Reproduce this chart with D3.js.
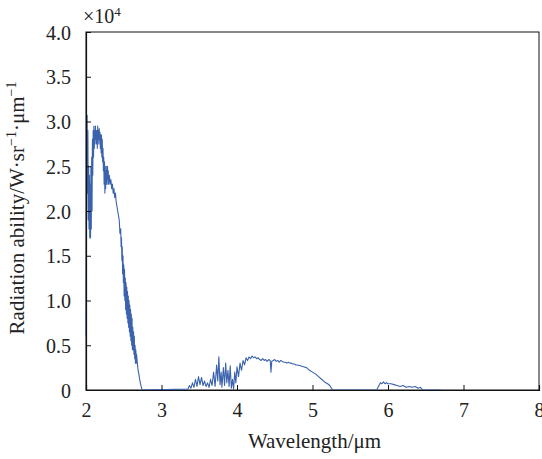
<!DOCTYPE html>
<html>
<head>
<meta charset="utf-8">
<script src="https://cdn.jsdelivr.net/npm/d3@7"></script>
<style>
body{margin:0;background:#fff;}
text{font-family:"Liberation Serif","Times New Roman",serif;fill:#222;}
</style>
</head>
<body>
<div id="chart"></div>
<script>
// wavelength (um) and radiation ability (x1e4 W/sr/um)
var band1 = [
 [2.000,0.6],[2.005,1.6],[2.010,2.6],[2.015,3.07],[2.020,2.2],[2.025,2.9],[2.030,1.9],[2.035,2.5],
 [2.040,1.8],[2.045,2.4],[2.050,1.7],[2.055,2.3],[2.060,1.7],[2.065,2.5],[2.070,1.8],[2.075,2.6],
 [2.080,2.0],[2.085,2.8],[2.090,2.4],[2.095,2.9],[2.100,2.6],[2.105,2.95],[2.110,2.7],[2.115,2.9],
 [2.120,2.75],[2.125,2.95],[2.130,2.8],[2.135,2.9],[2.140,2.75],[2.145,2.9],[2.150,2.7],[2.155,2.95],
 [2.160,2.8],[2.165,2.9],[2.170,2.75],[2.175,2.92],[2.180,2.8],[2.185,2.88],[2.190,2.7],[2.195,2.85],
 [2.200,2.65],[2.205,2.85],[2.210,2.6],[2.215,2.8],[2.220,2.55],[2.225,2.7],[2.230,2.45],[2.235,2.6],
 [2.240,2.3],[2.245,2.55],[2.250,2.2],[2.255,2.5],[2.260,2.25],[2.265,2.45],[2.270,2.3],[2.275,2.5],
 [2.280,2.35],[2.285,2.5],[2.290,2.3],[2.295,2.45],[2.300,2.3],[2.310,2.4],[2.320,2.3],[2.330,2.35],
 [2.340,2.25],[2.350,2.3],[2.360,2.2],[2.370,2.25],[2.380,2.15],[2.390,2.2],[2.400,2.1],[2.410,2.05],
 [2.420,2.0],[2.430,1.95],[2.440,1.9],[2.450,1.75],[2.460,1.8],[2.465,1.6],[2.470,1.7],[2.475,1.45],
 [2.480,1.6],[2.485,1.3],[2.490,1.5],[2.495,1.2],[2.500,1.4],[2.505,1.05],[2.510,1.35],[2.515,1.0],
 [2.520,1.25],[2.525,0.9],[2.530,1.2],[2.535,0.85],[2.540,1.15],[2.545,0.8],[2.550,1.1],[2.555,0.75],
 [2.560,1.05],[2.565,0.7],[2.570,1.0],[2.575,0.65],[2.580,0.95],[2.585,0.6],[2.590,0.9],[2.595,0.55],
 [2.600,0.85],[2.605,0.5],[2.610,0.8],[2.615,0.45],[2.620,0.7],[2.625,0.45],[2.630,0.65],[2.635,0.4],
 [2.640,0.6],[2.645,0.35],[2.650,0.5],[2.655,0.3],[2.660,0.45],[2.665,0.3],[2.670,0.4],[2.680,0.3],
 [2.690,0.22],[2.700,0.18],[2.710,0.12],[2.720,0.08],[2.730,0.04],[2.740,0.01],[2.750,0]
];
var band2 = [
 [2.750,0],[3.350,0.01],[3.370,0.05],[3.390,0.02],[3.410,0.08],[3.430,0.03],[3.450,0.12],[3.470,0.04],
 [3.490,0.15],[3.510,0.06],[3.530,0.14],[3.550,0.05],[3.570,0.1],[3.590,0.04],[3.610,0.08],[3.630,0.03],
 [3.650,0.12],[3.670,0.05],[3.690,0.2],[3.710,0.04],[3.730,0.28],[3.745,0.1],[3.760,0.37],[3.775,0.06],
 [3.790,0.2],[3.800,0.03],[3.820,0.25],[3.835,0.05],[3.850,0.3],[3.865,0.08],[3.880,0.22],[3.895,0.04],
 [3.910,0.27],[3.925,0.02],[3.940,0.12],[3.955,0.01],[3.970,0.2],[3.985,0.08],[4.000,0.26],[4.020,0.15],
 [4.040,0.3],[4.060,0.22],[4.080,0.33],[4.100,0.28],[4.120,0.36],[4.140,0.33],[4.160,0.37],[4.180,0.35],
 [4.200,0.38],[4.220,0.36],[4.240,0.37],[4.260,0.35],[4.280,0.36],[4.300,0.34],[4.320,0.33],[4.340,0.35],
 [4.360,0.33],[4.380,0.34],[4.400,0.32],[4.420,0.34],[4.440,0.33],[4.450,0.2],[4.460,0.32],[4.480,0.33],
 [4.500,0.34],[4.520,0.32],[4.540,0.33],[4.560,0.31],[4.580,0.33],[4.600,0.32],[4.620,0.31],[4.640,0.31],
 [4.660,0.30],[4.680,0.31],[4.700,0.30],[4.720,0.30],[4.740,0.29],[4.760,0.29],[4.780,0.28],[4.800,0.28],
 [4.840,0.27],[4.880,0.26],[4.920,0.25],[4.960,0.22],[5.000,0.2],[5.040,0.18],[5.080,0.15],[5.120,0.12],
 [5.160,0.09],[5.200,0.07],[5.230,0.05],[5.250,0.02],[5.270,0]
];
var band3 = [
 [5.270,0],[5.850,0],[5.880,0.05],[5.900,0.08],[5.920,0.07],[5.940,0.09],[5.960,0.07],[5.980,0.08],
 [6.000,0.07],[6.040,0.07],[6.080,0.06],[6.120,0.05],[6.160,0.04],[6.200,0.05],[6.240,0.03],[6.280,0.04],
 [6.320,0.03],[6.360,0.04],[6.400,0.02],[6.430,0.03],[6.460,0],[6.700,0]
];
var xTicks = [2,3,4,5,6,7,8];
var yTicks = [0,0.5,1.0,1.5,2.0,2.5,3.0,3.5,4.0];
var yTickLabels = ["0","0.5","1.0","1.5","2.0","2.5","3.0","3.5","4.0"];

var W = 542, H = 459;
var margin = {top: 32, right: 3, bottom: 69, left: 86},
    width = W - margin.left - margin.right,
    height = H - margin.top - margin.bottom;

var svg = d3.select("#chart").append("svg")
    .attr("width", W)
    .attr("height", H);

var g = svg.append("g")
    .attr("transform", "translate(" + margin.left + "," + margin.top + ")");

var xScale = d3.scaleLinear().domain([2, 8]).range([0, width]);
var yScale = d3.scaleLinear().domain([0, 4]).range([height, 0]);

// frame
g.append("rect")
    .attr("width", width)
    .attr("height", height)
    .attr("fill", "none")
    .attr("stroke", "#111")
    .attr("stroke-width", 1);

var line = d3.line()
    .x(function(d){ return xScale(d[0]); })
    .y(function(d){ return yScale(d[1]); });

g.selectAll(".spec")
    .data([band1, band2, band3])
    .enter().append("path")
    .attr("class", "spec")
    .attr("d", line)
    .attr("fill", "none")
    .attr("stroke", "#3a62ad")
    .attr("stroke-width", 1.1)
    .attr("stroke-linejoin", "round");

var xAxis = d3.axisBottom(xScale).tickValues(xTicks).tickSize(-5).tickPadding(13)
    .tickFormat(d3.format("d"));
var yAxis = d3.axisLeft(yScale).tickValues(yTicks).tickSize(-5).tickPadding(15)
    .tickFormat(function(d, i){ return yTickLabels[i]; });

var gX = g.append("g")
    .attr("transform", "translate(0," + height + ")")
    .call(xAxis);
var gY = g.append("g").call(yAxis);

[gX, gY].forEach(function(a){
  a.select(".domain").attr("stroke", "#111").attr("stroke-width", 1.2);
  a.selectAll(".tick line").attr("stroke", "#111");
  a.selectAll(".tick text")
    .style("font-family", "'Liberation Serif', serif")
    .style("font-size", "20px")
    .attr("fill", "#222");
});
gY.selectAll(".tick text").attr("dy", "0.35em");

// x title
svg.append("text")
    .attr("x", margin.left + width / 2 + 2)
    .attr("y", 448)
    .attr("text-anchor", "middle")
    .style("font-size", "21px")
    .text("Wavelength/μm");

// y title
var yt = svg.append("text")
    .attr("transform", "translate(24," + (margin.top + height / 2 - 3) + ") rotate(-90)")
    .attr("text-anchor", "middle")
    .style("font-size", "21px");
yt.append("tspan").text("Radiation ability/W·sr");
yt.append("tspan").attr("dy", -8).style("font-size", "14px").text("−1");
yt.append("tspan").attr("dy", 8).text("·μm");
yt.append("tspan").attr("dy", -8).style("font-size", "14px").text("−1");

// multiplier
var mt = svg.append("text")
    .attr("x", 83)
    .attr("y", 23)
    .style("font-size", "20px");
mt.append("tspan").text("×10");
mt.append("tspan").attr("dy", -7).style("font-size", "13px").text("4");
</script>
</body>
</html>
